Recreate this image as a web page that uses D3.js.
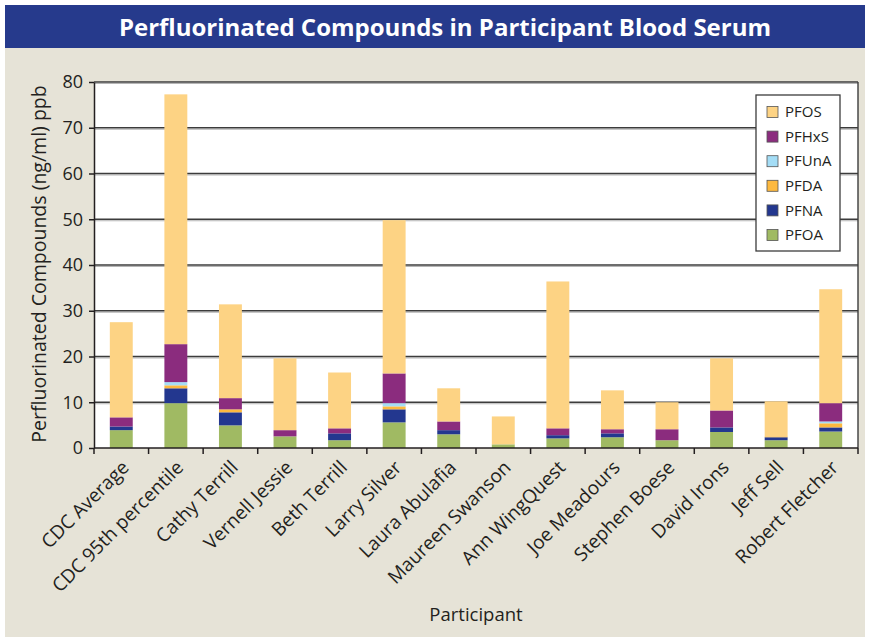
<!DOCTYPE html>
<meta charset="utf-8">
<style>
    body { margin: 0; background: #fff; }
    text { font-family: "Open Sans", sans-serif; fill: #231f20; }
    .grid line { stroke: #3c3c3c; stroke-width: 1.4; }
    .grid line.shade { stroke: #b5b5b5; stroke-width: 1; }
    .axis path, .axis line { stroke: #231f20; stroke-width: 1.5; }
</style>
<body>
<script src="https://cdn.jsdelivr.net/npm/d3@7"></script>
<script>
    var participants = ["CDC Average", "CDC 95th percentile", "Cathy Terrill", "Vernell Jessie",
        "Beth Terrill", "Larry Silver", "Laura Abulafia", "Maureen Swanson", "Ann WingQuest",
        "Joe Meadours", "Stephen Boese", "David Irons", "Jeff Sell", "Robert Fletcher"];

    // stacked from the bottom up
    var compounds = ["PFOA", "PFNA", "PFDA", "PFUnA", "PFHxS", "PFOS"];
    var colors = ["#a0ba63", "#23378f", "#fdb93f", "#a4ddf6", "#8b2c7e", "#fdd384"];

    var pfoa  = [3.9, 9.8, 4.95, 2.55, 1.7, 5.6, 3.0, 0.8, 2.1, 2.35, 1.7, 3.5, 1.7, 3.6];
    var pfna  = [0.8, 3.25, 2.85, 0, 1.5, 2.85, 0.9, 0, 0.7, 0.85, 0, 1.0, 0.65, 0.9];
    var pfda  = [0, 0.65, 0.65, 0, 0, 0.65, 0, 0, 0, 0, 0, 0, 0.2, 0.9];
    var pfuna = [0, 0.7, 0, 0, 0, 0.7, 0, 0, 0, 0, 0, 0, 0, 0.4];
    var pfhxs = [2.0, 8.3, 2.45, 1.35, 1.1, 6.5, 1.9, 0, 1.5, 0.9, 2.4, 3.7, 0, 4.0];
    var pfos  = [20.8, 54.6, 20.5, 15.7, 12.2, 33.5, 7.25, 6.1, 32.1, 8.5, 5.9, 11.4, 7.65, 24.9];

    var yTicks = [0, 10, 20, 30, 40, 50, 60, 70, 80];

    var series = [pfoa, pfna, pfda, pfuna, pfhxs, pfos];
    var rows = participants.map(function (p, i) {
        var r = {name: p};
        compounds.forEach(function (c, j) { r[c] = series[j][i]; });
        return r;
    });
    var stacked = d3.stack().keys(compounds)(rows);

    var W = 869, H = 641;
    var plot = {left: 94, right: 858, top: 82, bottom: 448};

    var svg = d3.select("body").append("svg")
            .attr("width", W)
            .attr("height", H);

    // frame
    svg.append("rect").attr("x", 5).attr("y", 5).attr("width", 860).attr("height", 632)
            .attr("fill", "#e6e3d7");
    svg.append("rect").attr("x", 5).attr("y", 5).attr("width", 860).attr("height", 43)
            .attr("fill", "#263a8c");
    svg.append("text")
            .attr("x", 445).attr("y", 36)
            .attr("text-anchor", "middle")
            .style("font-size", "24px")
            .style("font-weight", "bold")
            .style("fill", "#fff")
            .text("Perfluorinated Compounds in Participant Blood Serum");

    var x = d3.scaleBand()
            .domain(participants)
            .range([plot.left, plot.right])
            .paddingInner(0.58)
            .paddingOuter(0.29);
    var xTick = d3.scaleBand().domain(participants).range([plot.left, plot.right]);
    var y = d3.scaleLinear()
            .domain([0, 80])
            .range([plot.bottom, plot.top]);

    svg.append("rect")
            .attr("x", plot.left).attr("y", plot.top)
            .attr("width", plot.right - plot.left).attr("height", plot.bottom - plot.top)
            .attr("fill", "#fff");

    var grid = svg.append("g").attr("class", "grid");
    grid.selectAll("line.shade").data(yTicks.slice(1)).enter().append("line")
            .attr("class", "shade")
            .attr("x1", plot.left).attr("x2", plot.right)
            .attr("y1", function (d) { return y(d) + 1.5; })
            .attr("y2", function (d) { return y(d) + 1.5; });
    grid.selectAll("line.main").data(yTicks.slice(1)).enter().append("line")
            .attr("class", "main")
            .attr("x1", plot.left).attr("x2", plot.right)
            .attr("y1", function (d) { return y(d); })
            .attr("y2", function (d) { return y(d); });
    svg.append("line")
            .attr("x1", plot.right).attr("x2", plot.right)
            .attr("y1", plot.top).attr("y2", plot.bottom)
            .attr("stroke", "#3c3c3c").attr("stroke-width", 1.4);

    svg.append("g").selectAll("g").data(stacked).enter().append("g")
            .attr("fill", function (d, i) { return colors[i]; })
        .selectAll("rect").data(function (d) { return d; }).enter().append("rect")
            .attr("x", function (d) { return x(d.data.name); })
            .attr("width", x.bandwidth())
            .attr("y", function (d) { return y(d[1]); })
            .attr("height", function (d) { return y(d[0]) - y(d[1]); });

    // y axis
    var yAxis = svg.append("g")
            .attr("class", "axis")
            .attr("transform", "translate(" + plot.left + ",0)")
            .call(d3.axisLeft(y).tickValues(yTicks).tickSize(5).tickPadding(6).tickSizeOuter(0));
    yAxis.selectAll("text").style("font-size", "18px").style("fill", "#231f20");

    // x axis
    var xAxis = svg.append("g")
            .attr("class", "axis")
            .attr("transform", "translate(0," + plot.bottom + ")");
    xAxis.append("line")
            .attr("x1", plot.left).attr("x2", plot.right);
    xAxis.selectAll("line.t").data(participants.concat(["_end"])).enter().append("line")
            .attr("class", "t")
            .attr("x1", function (d, i) { return plot.left + i * xTick.step(); })
            .attr("x2", function (d, i) { return plot.left + i * xTick.step(); })
            .attr("y1", 0).attr("y2", 6);
    xAxis.selectAll("text").data(participants).enter().append("text")
            .attr("transform", function (d) {
                return "translate(" + (x(d) + x.bandwidth() / 2 + 4) + ",16) rotate(-45)";
            })
            .attr("text-anchor", "end")
            .attr("dy", "0.35em")
            .style("font-size", "19px")
            .text(function (d) { return d; });

    svg.append("text")
            .attr("transform", "translate(46," + 264 + ") rotate(-90)")
            .attr("text-anchor", "middle")
            .style("font-size", "19.5px")
            .text("Perfluorinated Compounds (ng/ml) ppb");
    svg.append("text")
            .attr("x", 476).attr("y", 621)
            .attr("text-anchor", "middle")
            .style("font-size", "18.5px")
            .text("Participant");

    // legend
    var legend = svg.append("g").attr("transform", "translate(756,95)");
    legend.append("rect")
            .attr("width", 84).attr("height", 156)
            .attr("fill", "#fff").attr("stroke", "#3c3c3c").attr("stroke-width", 1.3);
    var item = legend.selectAll("g.item").data(compounds.slice().reverse()).enter().append("g")
            .attr("class", "item")
            .attr("transform", function (d, i) { return "translate(11," + (17 + i * 24.6) + ")"; });
    item.append("rect")
            .attr("x", 0).attr("y", -5.5).attr("width", 11).attr("height", 11)
            .attr("fill", function (d) { return colors[compounds.indexOf(d)]; })
            .attr("stroke", "#555").attr("stroke-width", 0.8);
    item.append("text")
            .attr("x", 18).attr("dy", "0.35em")
            .style("font-size", "15px")
            .text(function (d) { return d; });
</script>
</body>
